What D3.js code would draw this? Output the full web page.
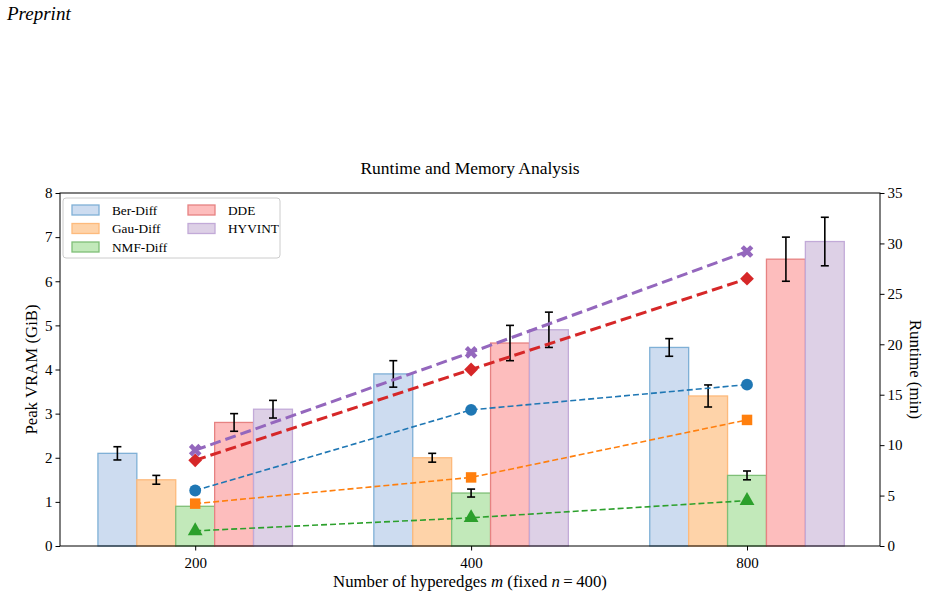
<!DOCTYPE html>
<html>
<head>
<meta charset="utf-8">
<script src="https://cdn.jsdelivr.net/npm/d3@7"></script>
<style>
  body { margin: 0; background: #fff; }
  svg text { font-family: "Liberation Serif", "DejaVu Serif", serif; fill: #000; }
</style>
</head>
<body>
<div id="chart"></div>
<script>
// m values (categories)
const categories = ["200", "400", "800"];
const methods = ["Ber-Diff", "Gau-Diff", "NMF-Diff", "DDE", "HYVINT"];

// Peak VRAM (GiB) per method, per category
const vramBer = [2.1, 3.9, 4.5];
const vramGau = [1.5, 2.0, 3.4];
const vramNmf = [0.9, 1.2, 1.6];
const vramDde = [2.8, 4.6, 6.5];
const vramHyv = [3.1, 4.9, 6.9];

// error on VRAM
const errBer = [0.15, 0.3, 0.2];
const errGau = [0.1, 0.1, 0.25];
const errNmf = [0, 0.09, 0.1];
const errDde = [0.2, 0.4, 0.5];
const errHyv = [0.2, 0.4, 0.55];

// Runtime (min)
const timeBer = [5.5, 13.5, 16.0];
const timeGau = [4.2, 6.8, 12.5];
const timeNmf = [1.5, 2.8, 4.5];
const timeDde = [8.5, 17.5, 26.5];
const timeHyv = [9.5, 19.2, 29.2];

const leftTicks = [0, 1, 2, 3, 4, 5, 6, 7, 8];
const rightTicks = [0, 5, 10, 15, 20, 25, 30, 35];

const styles = [
    { fill: "#cddcf0", edge: "#7fb0d6", line: "#1f77b4", marker: "circle", thick: false },
    { fill: "#fed3a9", edge: "#fdba7c", line: "#ff7f0e", marker: "square", thick: false },
    { fill: "#c2e9ba", edge: "#7fbf77", line: "#2ca02c", marker: "triangle", thick: false },
    { fill: "#fdbdbd", edge: "#e68282", line: "#d62728", marker: "diamond", thick: true },
    { fill: "#ddd0e6", edge: "#c2aad8", line: "#9467bd", marker: "x", thick: true }
];

const vram = [vramBer, vramGau, vramNmf, vramDde, vramHyv];
const errs = [errBer, errGau, errNmf, errDde, errHyv];
const times = [timeBer, timeGau, timeNmf, timeDde, timeHyv];

const W = 933, H = 597;
const margin = { top: 193, right: 53, bottom: 51, left: 60 };
const width = W - margin.left - margin.right;
const height = H - margin.top - margin.bottom;

const svg = d3.select("#chart").append("svg")
    .attr("width", W).attr("height", H);

svg.append("text")
    .attr("x", 7).attr("y", 20)
    .style("font-size", "19px")
    .style("font-style", "italic")
    .text("Preprint");

const g = svg.append("g").attr("transform", `translate(${margin.left},${margin.top})`);

const x = d3.scaleLinear().domain([-0.49, 2.482]).range([0, width]);
const y = d3.scaleLinear().domain([0, 8]).range([height, 0]);
const y2 = d3.scaleLinear().domain([0, 35]).range([height, 0]);

const barW = x(0.141) - x(0);

// bars
methods.forEach((m, j) => {
    const off = (j - 2) * 0.141;
    g.selectAll(".bar-" + j)
        .data(categories)
        .enter().append("rect")
        .attr("x", (d, i) => x(i + off) - barW / 2)
        .attr("y", (d, i) => y(vram[j][i]))
        .attr("width", barW)
        .attr("height", (d, i) => height - y(vram[j][i]))
        .attr("fill", styles[j].fill)
        .attr("stroke", styles[j].edge)
        .attr("stroke-width", 1.3);
});

// error bars
methods.forEach((m, j) => {
    const off = (j - 2) * 0.141;
    categories.forEach((c, i) => {
        const e = errs[j][i];
        if (!e) return;
        const cx = x(i + off);
        const v = vram[j][i];
        const eg = g.append("g").attr("stroke", "#000").attr("stroke-width", 1.6);
        eg.append("line").attr("x1", cx).attr("x2", cx).attr("y1", y(v - e)).attr("y2", y(v + e));
        eg.append("line").attr("x1", cx - 4).attr("x2", cx + 4).attr("y1", y(v - e)).attr("y2", y(v - e));
        eg.append("line").attr("x1", cx - 4).attr("x2", cx + 4).attr("y1", y(v + e)).attr("y2", y(v + e));
    });
});

// runtime lines
const line = d3.line().x((d, i) => x(i)).y(d => y2(d));
methods.forEach((m, j) => {
    const s = styles[j];
    g.append("path")
        .datum(times[j])
        .attr("d", line)
        .attr("fill", "none")
        .attr("stroke", s.line)
        .attr("stroke-width", s.thick ? 3 : 1.6)
        .attr("stroke-dasharray", s.thick ? "11,5" : "6,3");
    const sym = {
        circle: d3.symbolCircle, square: d3.symbolSquare, triangle: d3.symbolTriangle,
        diamond: d3.symbolSquare, x: d3.symbolCross
    }[s.marker];
    const size = { circle: 110, square: 110, triangle: 95, diamond: 95, x: 100 }[s.marker];
    g.selectAll(".mk-" + j)
        .data(times[j])
        .enter().append("path")
        .attr("d", d3.symbol().type(sym).size(size))
        .attr("transform", (d, i) => `translate(${x(i)},${y2(d)})` + (s.marker === "x" || s.marker === "diamond" ? " rotate(45)" : ""))
        .attr("fill", s.line);
});

// axes
const xAxis = g.append("g")
    .attr("transform", `translate(0,${height})`)
    .call(d3.axisBottom(x).tickValues([0, 1, 2]).tickFormat(i => categories[i]).tickSizeOuter(0).tickSize(4.5));
const yAxis = g.append("g")
    .call(d3.axisLeft(y).tickValues(leftTicks).tickSizeOuter(0).tickSize(4.5));
const y2Axis = g.append("g")
    .attr("transform", `translate(${width},0)`)
    .call(d3.axisRight(y2).tickValues(rightTicks).tickSizeOuter(0).tickSize(4.5));

[xAxis, yAxis, y2Axis].forEach(a => {
    a.attr("font-family", "'Liberation Serif', serif").attr("font-size", 15);
    a.select(".domain").remove();
    a.selectAll("line").attr("stroke", "#000").attr("stroke-width", 1);
    a.selectAll("text").style("font-size", "15px")
        .style("font-family", "'Liberation Serif', serif");
});
xAxis.selectAll("text").attr("dy", "0.95em");

// frame
g.append("rect")
    .attr("width", width).attr("height", height)
    .attr("fill", "none").attr("stroke", "#000").attr("stroke-width", 1);

// labels
svg.append("text")
    .attr("x", margin.left + width / 2).attr("y", 174)
    .attr("text-anchor", "middle")
    .style("font-size", "17.5px")
    .text("Runtime and Memory Analysis");

const xl = svg.append("text")
    .attr("x", margin.left + width / 2).attr("y", 587)
    .attr("text-anchor", "middle")
    .style("font-size", "16.8px");
xl.append("tspan").text("Number of hyperedges ");
xl.append("tspan").style("font-style", "italic").text("m");
xl.append("tspan").text(" (fixed ");
xl.append("tspan").style("font-style", "italic").text("n");
xl.append("tspan").text("\u2009=\u2009400)");

svg.append("text")
    .attr("transform", `translate(37,${margin.top + height / 2}) rotate(-90)`)
    .attr("text-anchor", "middle")
    .style("font-size", "16.8px")
    .text("Peak VRAM (GiB)");

svg.append("text")
    .attr("transform", `translate(910,${margin.top + height / 2}) rotate(90)`)
    .attr("text-anchor", "middle")
    .style("font-size", "16.8px")
    .text("Runtime (min)");

// legend
const lg = g.append("g").attr("transform", "translate(3,5)");
lg.append("rect")
    .attr("width", 217).attr("height", 60).attr("rx", 3)
    .attr("fill", "#fff").attr("fill-opacity", 0.8)
    .attr("stroke", "#ccc").attr("stroke-width", 1);
methods.forEach((m, j) => {
    const col = j < 3 ? 0 : 1;
    const row = j < 3 ? j : j - 3;
    const item = lg.append("g").attr("transform", `translate(${9 + col * 116},${7 + row * 18.5})`);
    item.append("rect")
        .attr("width", 27).attr("height", 10)
        .attr("fill", styles[j].fill).attr("stroke", styles[j].edge).attr("stroke-width", 1.3);
    item.append("text")
        .attr("x", 40).attr("y", 9.5)
        .style("font-size", "13.3px")
        .text(m);
});
</script>
</body>
</html>
